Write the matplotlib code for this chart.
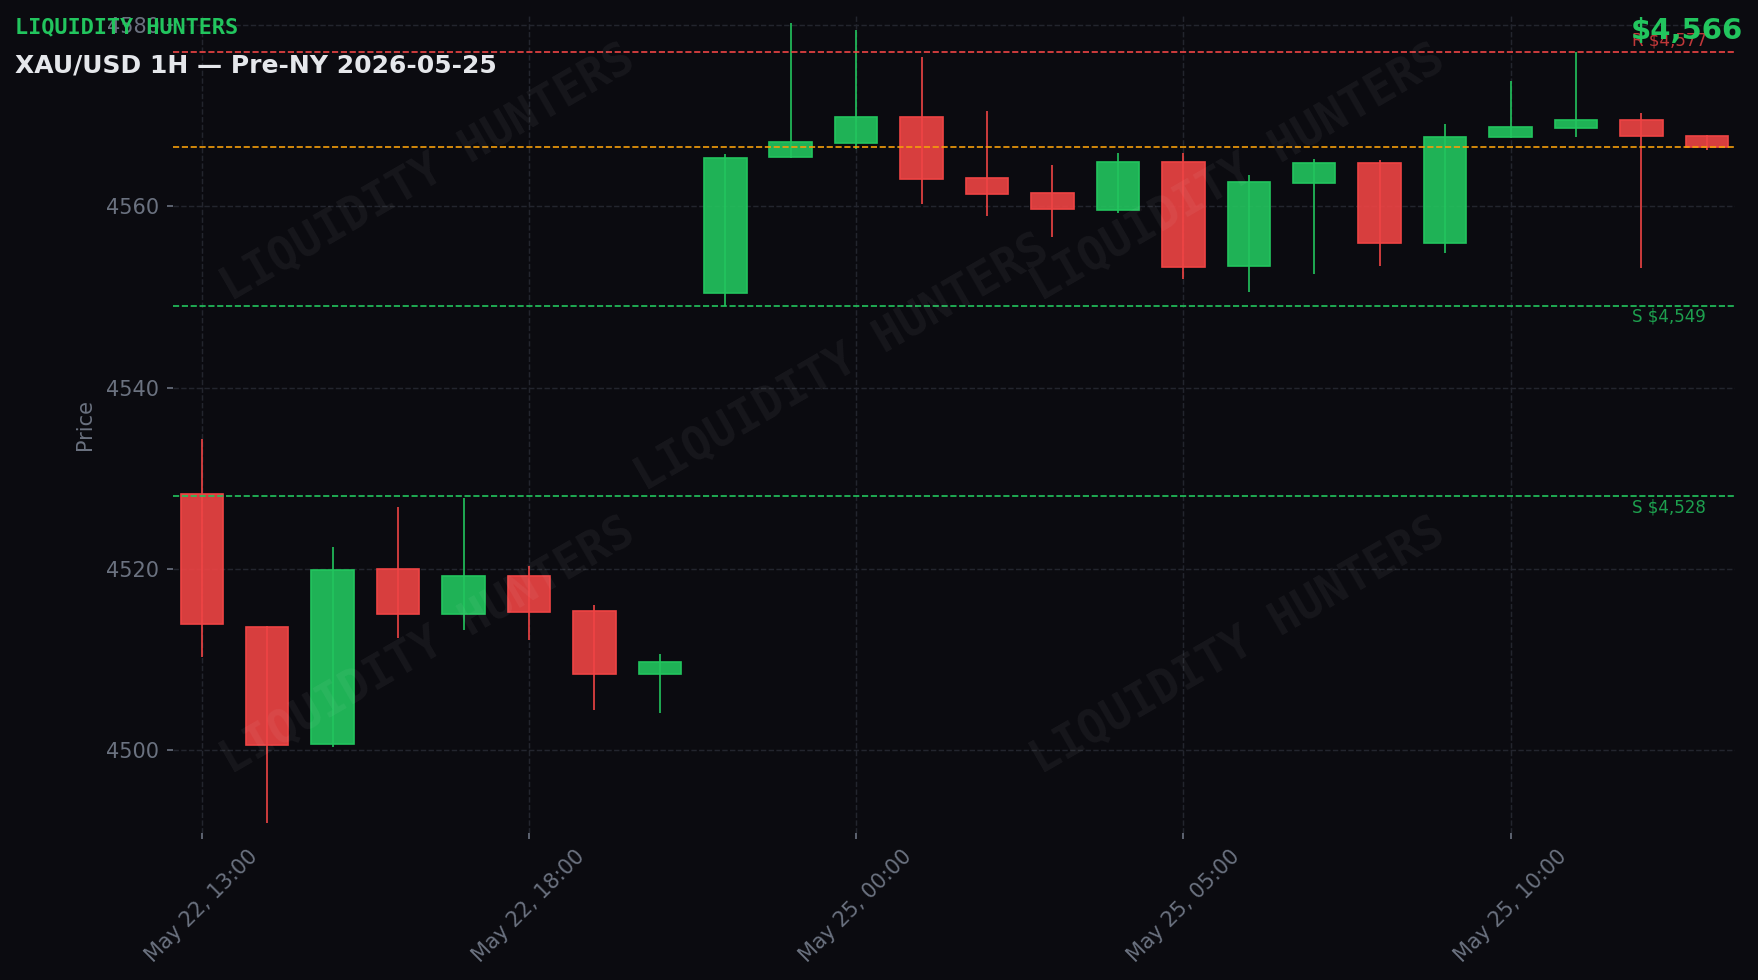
import matplotlib
matplotlib.use("Agg")
import matplotlib.pyplot as plt
import matplotlib.transforms as mtransforms
from matplotlib.colors import to_rgba
import numpy as np

# ---- data ----
times = ["May 22, 13:00", "May 22, 14:00", "May 22, 15:00", "May 22, 16:00",
         "May 22, 17:00", "May 22, 18:00", "May 22, 19:00", "May 22, 20:00",
         "May 24, 22:00", "May 24, 23:00", "May 25, 00:00", "May 25, 01:00",
         "May 25, 02:00", "May 25, 03:00", "May 25, 04:00", "May 25, 05:00",
         "May 25, 06:00", "May 25, 07:00", "May 25, 08:00", "May 25, 09:00",
         "May 25, 10:00", "May 25, 11:00", "May 25, 12:00", "May 25, 13:00"]
opens = [4528.2, 4513.6, 4500.7, 4520.0, 4515.0, 4519.2, 4515.3, 4508.4,
         4550.4, 4565.4, 4567.0, 4569.8, 4563.1, 4561.5, 4559.6, 4564.9,
         4553.4, 4562.6, 4564.8, 4556.0, 4567.6, 4568.6, 4569.5, 4567.8]
highs = [4534.3, 4513.7, 4522.4, 4526.8, 4527.8, 4520.3, 4516.0, 4510.6,
         4565.8, 4580.2, 4579.5, 4576.5, 4570.5, 4564.6, 4565.9, 4565.9,
         4563.4, 4565.2, 4565.1, 4569.1, 4573.8, 4577.0, 4570.3, 4567.9]
lows = [4510.3, 4492.0, 4500.3, 4512.4, 4513.2, 4512.1, 4504.4, 4504.1,
        4549.0, 4565.3, 4566.3, 4560.3, 4558.9, 4556.6, 4559.3, 4552.0,
        4550.5, 4552.5, 4553.4, 4554.9, 4567.5, 4567.7, 4553.2, 4566.2]
closes = [4513.9, 4500.6, 4519.9, 4515.0, 4519.2, 4515.2, 4508.4, 4509.7,
          4565.3, 4567.1, 4569.8, 4563.0, 4561.4, 4559.7, 4564.9, 4553.3,
          4562.7, 4564.8, 4556.0, 4567.7, 4568.7, 4569.5, 4567.8, 4566.5]
resistance_levels = [4577]
support_levels = [4549, 4528]
tick_every = 5
title = "XAU/USD 1H \u2014 Pre-NY 2026-05-25"
brand = "LIQUIDITY HUNTERS"

# ---- style ----
BG = "#0b0b10"
GREEN = "#22c55e"
RED = "#ef4444"
ORANGE = "#f59e0b"
GRAY = "#6b7280"
GRID = "#23252e"

fig = plt.figure(figsize=(1758 / 150, 980 / 150), dpi=150, facecolor=BG)
ax = fig.add_axes([0.0984, 0.15, 0.9869 - 0.0984, 0.9837 - 0.15], facecolor=BG)

o = np.array(opens); h = np.array(highs); l = np.array(lows); c = np.array(closes)
x = np.arange(len(o))
up = c >= o
cols = np.where(up, GREEN, RED)

ax.vlines(x, l, h, colors=cols, linewidth=0.8, zorder=2)
ax.bar(x, np.abs(c - o), bottom=np.minimum(o, c), width=0.65,
       color=[to_rgba(cc, 0.9) for cc in cols], edgecolor=cols,
       linewidth=0.8, zorder=3)

ax.set_xlim(-0.44, len(o) - 1 + 0.43)
ax.set_ylim(4490.85, 4581.0)

# levels
trans = mtransforms.blended_transform_factory(ax.transAxes, ax.transData)
for r in resistance_levels:
    ax.axhline(r, color=RED, linestyle="--", linewidth=0.8, zorder=4)
    ax.text(0.934, r + 0.35, f"R ${r:,.0f}", transform=trans, color=RED,
            alpha=0.8, fontsize=8, ha="left", va="bottom", zorder=5)
for s in support_levels:
    ax.axhline(s, color=GREEN, linestyle="--", linewidth=0.8, zorder=4)
    ax.text(0.934, s - 0.2, f"S ${s:,.0f}", transform=trans, color=GREEN,
            alpha=0.8, fontsize=8, ha="left", va="top", zorder=5)
last = closes[-1]
ax.axhline(last, color=ORANGE, linestyle="--", linewidth=0.8, zorder=4)

# ticks
tick_pos = x[::tick_every]
ax.set_xticks(tick_pos)
ax.set_xticklabels([times[i] for i in tick_pos], rotation=45)
ax.set_yticks([4500, 4520, 4540, 4560, 4580])
ax.tick_params(colors=GRAY, labelsize=10, length=3, width=0.8)
for sp in ax.spines.values():
    sp.set_visible(False)
ax.grid(True, color=GRID, linestyle="--", linewidth=0.7)
ax.set_axisbelow(True)
ax.set_ylabel("Price", color=GRAY, fontsize=10)
ax.yaxis.set_label_coords(-0.050, 0.5)

# watermark
wm_pos = [(0.163, 0.807), (0.428, 0.575), (0.682, 0.807), (0.163, 0.228), (0.682, 0.228)]
for (wx, wy) in wm_pos:
    ax.text(wx, wy, brand, transform=ax.transAxes, rotation=30,
            fontsize=22, fontweight="bold", family="DejaVu Sans Mono",
            color="white", alpha=0.05, ha="center", va="center", zorder=6)

# header texts
fig.text(0.0085, 0.966, brand, color=GREEN, fontsize=10.5, fontweight="bold",
         family="DejaVu Sans Mono", ha="left", va="baseline")
fig.text(0.0085, 0.9258, title, color="#e5e7eb", fontsize=12, fontweight="bold",
         ha="left", va="baseline")
fig.text(0.9915, 0.960, f"${last:,.0f}", color=GREEN, fontsize=14, fontweight="bold",
         ha="right", va="baseline")

fig.savefig("out.png", dpi=150, facecolor=BG)
